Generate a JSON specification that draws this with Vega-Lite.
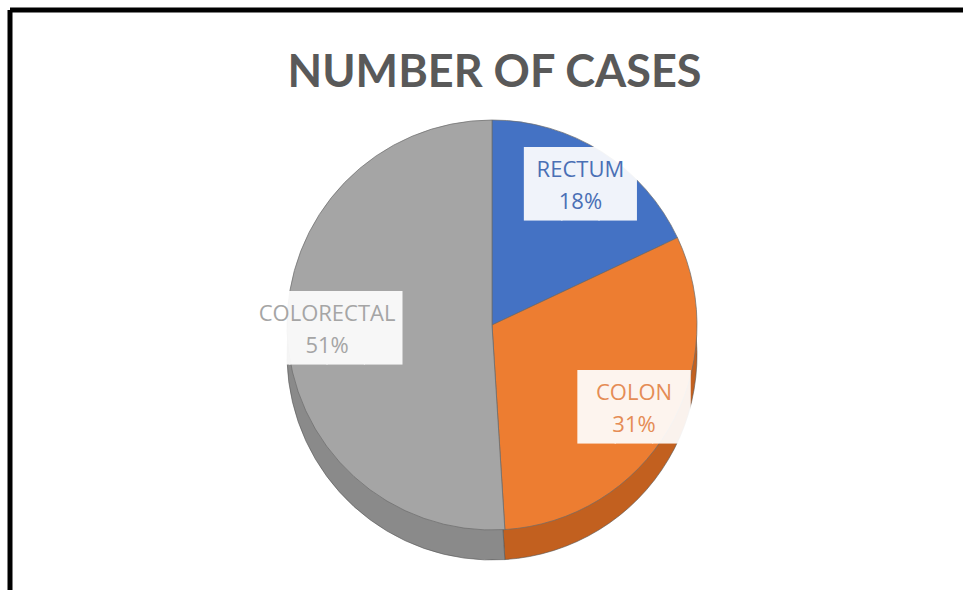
{
  "$schema": "https://vega.github.io/schema/vega-lite/v6.json",
  "width": 953,
  "height": 580,
  "autosize": "none",
  "padding": {"left": 10, "top": 10, "right": 0, "bottom": 0},
  "background": "white",
  "view": {"stroke": "#000000", "strokeWidth": 5, "strokeDash": [953, 1533, 580, 0]},
  "title": {
    "text": "NUMBER OF CASES",
    "frame": "group",
    "anchor": "middle",
    "orient": "top",
    "baseline": "alphabetic",
    "offset": -122,
    "dx": 8,
    "font": "Lato",
    "fontSize": 45,
    "fontWeight": "bold",
    "color": "#595959"
  },
  "data": {
    "values": [
      {"site": "RECTUM", "share": 18, "order": 1},
      {"site": "COLON", "share": 31, "order": 2},
      {"site": "COLORECTAL", "share": 51, "order": 3}
    ]
  },
  "transform": [
    {"calculate": "datum.site + '\\n' + datum.share + '%'", "as": "label"},
    {"calculate": "length(datum.site) > 8 ? '████' : '███'", "as": "box"}
  ],
  "encoding": {
    "theta": {"field": "share", "type": "quantitative", "stack": true},
    "order": {"field": "order", "type": "quantitative"}
  },
  "layer": [
    {
      "mark": {"type": "arc", "radius": 205, "xOffset": 5.5, "yOffset": 55, "stroke": "#555555", "strokeWidth": 0.6},
      "encoding": {
        "color": {
          "field": "site",
          "type": "nominal",
          "scale": {"domain": ["RECTUM", "COLON", "COLORECTAL"], "range": ["#2f5597", "#c2601f", "#8a8a8a"]},
          "legend": null
        }
      }
    },
    {
      "mark": {"type": "arc", "radius": 205, "xOffset": 5.5, "yOffset": 25, "stroke": "#6b6b6b", "strokeWidth": 0.7},
      "encoding": {
        "color": {
          "field": "site",
          "type": "nominal",
          "scale": {"domain": ["RECTUM", "COLON", "COLORECTAL"], "range": ["#4472C4", "#ED7D31", "#A5A5A5"]},
          "legend": null
        }
      }
    },
    {
      "mark": {"type": "text", "radius": 165, "xOffset": 5.5, "yOffset": 25, "font": "DejaVu Sans Mono", "fontSize": 62, "baseline": "middle", "align": "center", "color": "#ffffff", "opacity": 0.92},
      "encoding": {"text": {"field": "box"}}
    },
    {
      "mark": {"type": "text", "radius": 165, "xOffset": 5.5, "yOffset": 25, "dy": -16, "font": "Open Sans", "fontSize": 22, "lineHeight": 32, "lineBreak": "\n", "baseline": "middle", "align": "center"},
      "encoding": {
        "text": {"field": "label"},
        "color": {
          "field": "site",
          "type": "nominal",
          "scale": {"domain": ["RECTUM", "COLON", "COLORECTAL"], "range": ["#4a6fb5", "#e58c55", "#a5a5a5"]},
          "legend": null
        }
      }
    }
  ],
  "resolve": {"scale": {"color": "independent"}}
}
